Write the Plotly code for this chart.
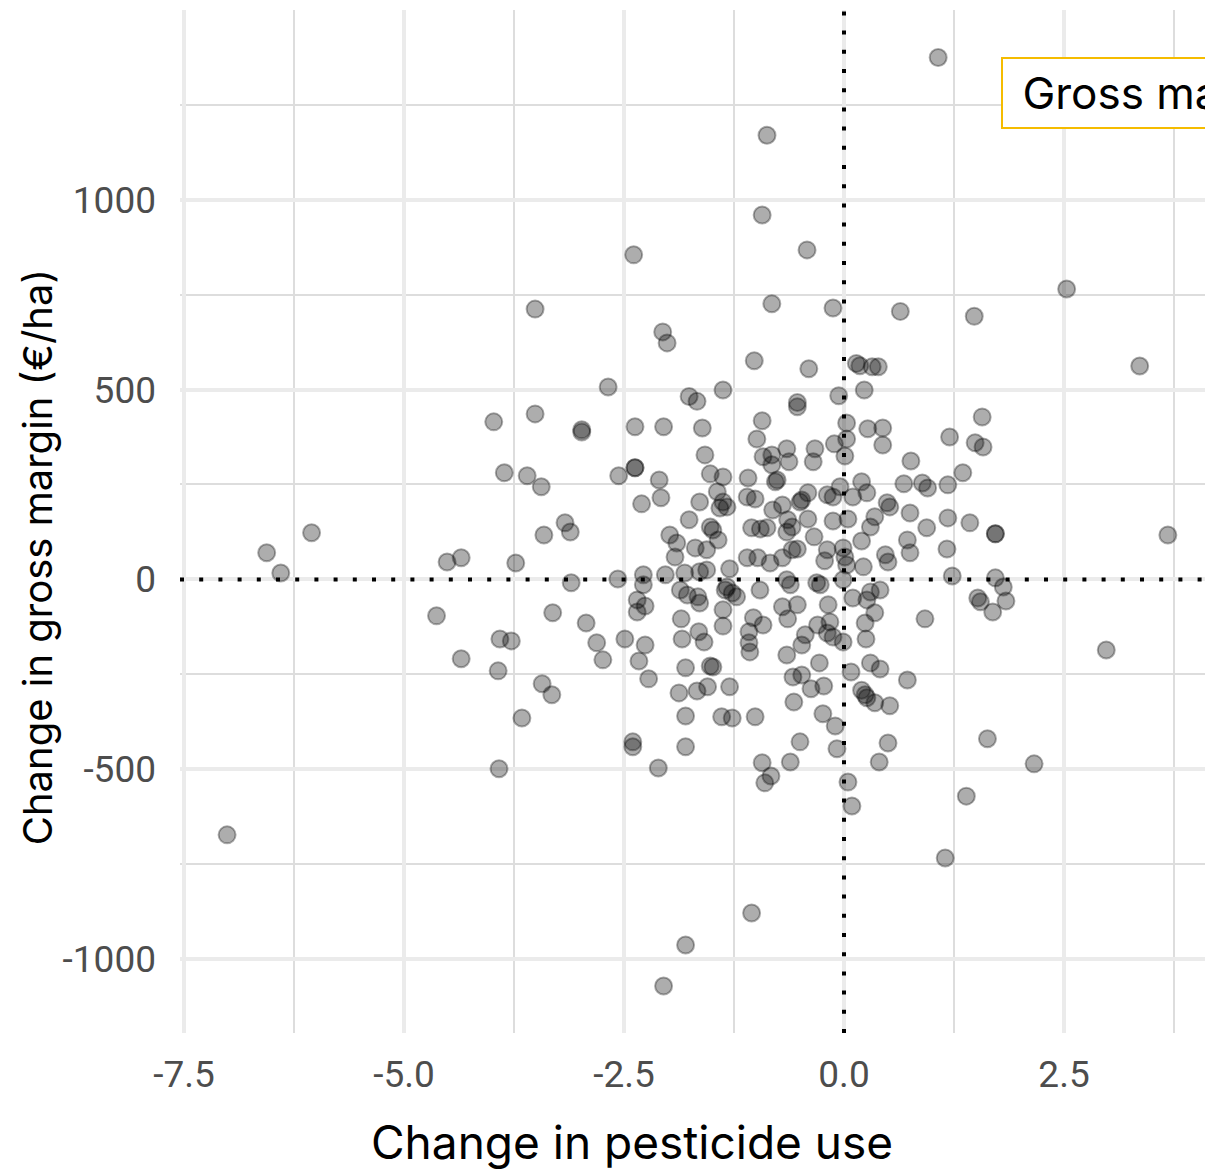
import plotly.graph_objects as go

# Change in pesticide use (x) and change in gross margin in EUR/ha (y)
pesticide_change = [
    1.07, -0.875, -0.93, -2.39, -0.42, 2.53, -3.51, -0.82, -0.125, 0.64, 1.48, -2.06, -2.01, 3.36,
    -1.02, -0.40, 0.14, 0.18, 0.32, 0.39, 0.23, -2.68, -1.375,
    -1.76, -1.67, -0.53, -0.53, -0.06, 1.57, -2.375, -2.05, -1.61, -0.93, -0.99, 0.03, 0.03, 0.27,
    0.44, 0.44, 1.20, 1.49, 1.58, -1.58, -0.92, -0.82, -0.65, -0.625, -0.82, -0.33, -0.35, -0.11,
    0.01, 0.76, -2.375, -2.375, -2.56, -2.10, -1.52, -1.375, -1.09, -0.78, -0.76, 0.20, 1.35,
    -3.98, -3.51, -3.86, -3.60, -3.44, -2.98, -2.98, -3.41, -3.17, -3.11, -3.10, -3.31, -2.93, -2.81,
    -2.74, -3.93, -3.91, -3.78, -4.35, -4.63, -4.51, -4.35, -3.73, -3.66, -3.43, -3.32, -3.92,
    -7.01, -6.56, -6.40, -6.05,
    -2.57, -2.49, -2.40, -2.40, -2.35, -2.26, -2.35, -2.28, -2.28, -2.30, -2.08, -2.22, -2.33, -2.26,
    -2.11, -2.03,
    -1.64, -1.44, -1.375, -1.33, -1.41, -1.10, -1.01, -0.81, -0.70, -0.50, -0.48, -0.41, -0.19,
    -0.125, -0.045, 0.10, 0.26, 0.52, 0.49, 0.68, 0.89, 0.95, 1.18, 0.75, 1.18, 1.43, 1.72, 1.72,
    0.94, 0.72, 0.75, 1.17,
    -1.76, -1.98, -1.90, -1.92, -1.69, -1.52, -1.49, -1.43, -1.56, -1.05, -0.95, -0.875, -0.64,
    -0.59, -0.65, -0.41, -0.34, -0.125, 0.045, 0.35, 0.30, 0.20,
    -1.10, -0.98, -0.84, -0.70, -0.59, -0.53, -0.22, -0.19, -0.01, 0.01, 0.03, 0.22, 0.47, 0.50,
    -1.81, -1.64, -1.56, -1.30, -0.955, -0.65, -0.61, -0.31, -0.27, -0.01, 1.23, 1.72, 1.81, 1.69,
    1.84, 1.52, 1.55, 0.92,
    -1.86, -1.78, -1.66, -1.64, -1.35, -1.27, -1.22, -1.33, 0.10, 0.26, 0.30, 0.41, -0.18, -0.70,
    -0.53, -1.375, -1.85, -1.375, -1.03, -0.92, -1.08, -1.08, -1.07, -0.64, -0.30, -0.16, -0.19,
    -0.125, -0.01, -0.44, -0.48, -0.65, 0.35, 0.24, 0.25, -1.84, -1.65, -1.59, -1.80, -1.52, -1.49,
    -1.875, -1.67, -1.55, -1.30, -1.80, -1.39, -1.27, -1.01, -1.80, -0.58, -0.48, -0.375, -0.23,
    -0.28, -0.57, -0.24, -0.10, -0.50, -0.08, -0.61, -0.93, -0.83, -0.90, 0.08, 0.30, 0.41, 0.72,
    0.20, 0.24, 0.26, 0.35, 0.52, 0.50, 0.40,
    -1.05, -1.80, -2.05, 1.15, 1.39, 0.09, 0.045, 2.16, 1.63, 2.98, 3.68,
]
gross_margin_change = [
    1375, 1170, 960, 855, 868, 765, 712, 726, 715, 706, 693, 652, 623, 562,
    576, 555, 569, 563, 560, 560, 499, 507, 499,
    482, 469, 466, 455, 484, 428, 402, 402, 399, 418, 370, 412, 370, 397,
    399, 354, 375, 360, 349, 328, 323, 328, 344, 310, 302, 344, 310, 357,
    325, 312, 294, 294, 273, 262, 278, 270, 267, 257, 262, 257, 281,
    415, 436, 281, 273, 244, 394, 388, 117, 149, 125, -9, -88, -115, -167,
    -212, -241, -157, -162, -209, -96, 46, 57, 43, -365, -275, -304, -499,
    -673, 70, 17, 123,
    1, -157, -428, -441, -86, -70, -54, -14, 12, 199, 215, -262, -215, -173,
    -497, 12,
    204, 231, 204, 191, 188, 217, 212, 183, 196, 204, 209, 228, 223,
    217, 244, 217, 228, 191, 202, 252, 254, 241, 249, 175, 162, 149, 120, 120,
    136, 104, 70, 80,
    157, 117, 96, 59, 83, 138, 130, 104, 78, 136, 133, 136, 157,
    138, 125, 159, 112, 154, 159, 165, 138, 101,
    57, 57, 43, 57, 78, 80, 49, 78, 83, 59, 38, 33, 65, 46,
    17, 20, 25, 28, -28, -1, -14, -9, -14, -1, 9, 4, -20, -86,
    -57, -49, -59, -104,
    -28, -41, -46, -62, -28, -36, -46, -20, -49, -54, -33, -28, -67, -72,
    -67, -80, -104, -123, -101, -120, -138, -167, -191, -104, -120, -112, -141,
    -152, -165, -146, -173, -199, -88, -115, -157, -157, -138, -165, -233, -228, -231,
    -299, -294, -283, -283, -360, -362, -365, -362, -441, -257, -252, -288, -281,
    -220, -323, -354, -386, -428, -446, -481, -483, -518, -536, -244, -220, -236, -265,
    -292, -304, -312, -325, -333, -431, -481,
    -879, -963, -1071, -734, -571, -597, -534, -486, -420, -186, 117,
]

x_tick_values = [-7.5, -5.0, -2.5, 0.0, 2.5]
x_tick_labels = ["-7.5", "-5.0", "-2.5", "0.0", "2.5"]
y_tick_values = [-1000, -500, 0, 500, 1000]
y_tick_labels = ["-1000", "-500", "0", "500", "1000"]

x_title = "Change in pesticide use"
y_title = "Change in gross margin (€/ha)"
label_text = "Gross margin"

TITLE_FONT = "Inter, Roboto, sans-serif"
TICK_FONT = "Roboto, Liberation Sans, sans-serif"

fig = go.Figure()
fig.add_trace(go.Scatter(
    x=pesticide_change,
    y=gross_margin_change,
    mode="markers",
    marker=dict(size=17, color="rgba(0,0,0,0.32)",
                line=dict(color="rgba(0,0,0,0.32)", width=2)),
    hoverinfo="x+y",
    showlegend=False,
))

dotted = dict(color="black", width=4, dash="4px,15.2px")
fig.add_shape(type="line", xref="paper", x0=0, x1=1, yref="y", y0=0, y1=0,
              line=dotted, layer="above")
fig.add_shape(type="line", xref="x", x0=0, x1=0, yref="paper", y0=0, y1=1,
              line=dotted, layer="above")

fig.add_annotation(
    text="&nbsp;" + label_text, xref="x", yref="y", x=1.784, y=1377,
    xanchor="left", yanchor="top", showarrow=False, align="left",
    font=dict(family=TITLE_FONT, size=44, color="black"),
    bgcolor="white", bordercolor="#F5BC00", borderwidth=2, borderpad=7,
)
fig.add_annotation(
    text=x_title, xref="paper", yref="paper", x=0.441, y=-0.1066,
    xanchor="center", yanchor="middle", showarrow=False,
    font=dict(family=TITLE_FONT, size=46, color="black"),
)
fig.add_annotation(
    text=y_title, xref="paper", yref="paper", x=-0.1395, y=0.465,
    xanchor="center", yanchor="middle", showarrow=False, textangle=-90,
    font=dict(family=TITLE_FONT, size=40, color="black"),
)

fig.update_layout(
    width=1205, height=1173,
    margin=dict(l=180, r=0, t=10, b=140),
    paper_bgcolor="white", plot_bgcolor="white",
    xaxis=dict(
        range=[-7.545, 4.102], tickvals=x_tick_values, ticktext=x_tick_labels,
        showgrid=True, gridcolor="#EBEBEB", gridwidth=3.5, zeroline=False,
        showline=False, ticks="", ticklabelstandoff=16,
        tickfont=dict(family=TICK_FONT, size=37, color="#4D4D4D"),
        minor=dict(tickvals=[-6.25, -3.75, -1.25, 1.25, 3.75], showgrid=True,
                   gridcolor="#DDDDDD", gridwidth=2),
    ),
    yaxis=dict(
        range=[-1195, 1500], tickvals=y_tick_values, ticktext=y_tick_labels,
        showgrid=True, gridcolor="#EBEBEB", gridwidth=3.5, zeroline=False,
        showline=False, ticks="", ticklabelstandoff=23,
        tickfont=dict(family=TICK_FONT, size=37, color="#4D4D4D"),
        minor=dict(tickvals=[-750, -250, 250, 750, 1250], showgrid=True,
                   gridcolor="#DDDDDD", gridwidth=2),
    ),
)

fig.write_html("out.html", config={"displayModeBar": False},
               post_script="document.body.style.margin='0';")
